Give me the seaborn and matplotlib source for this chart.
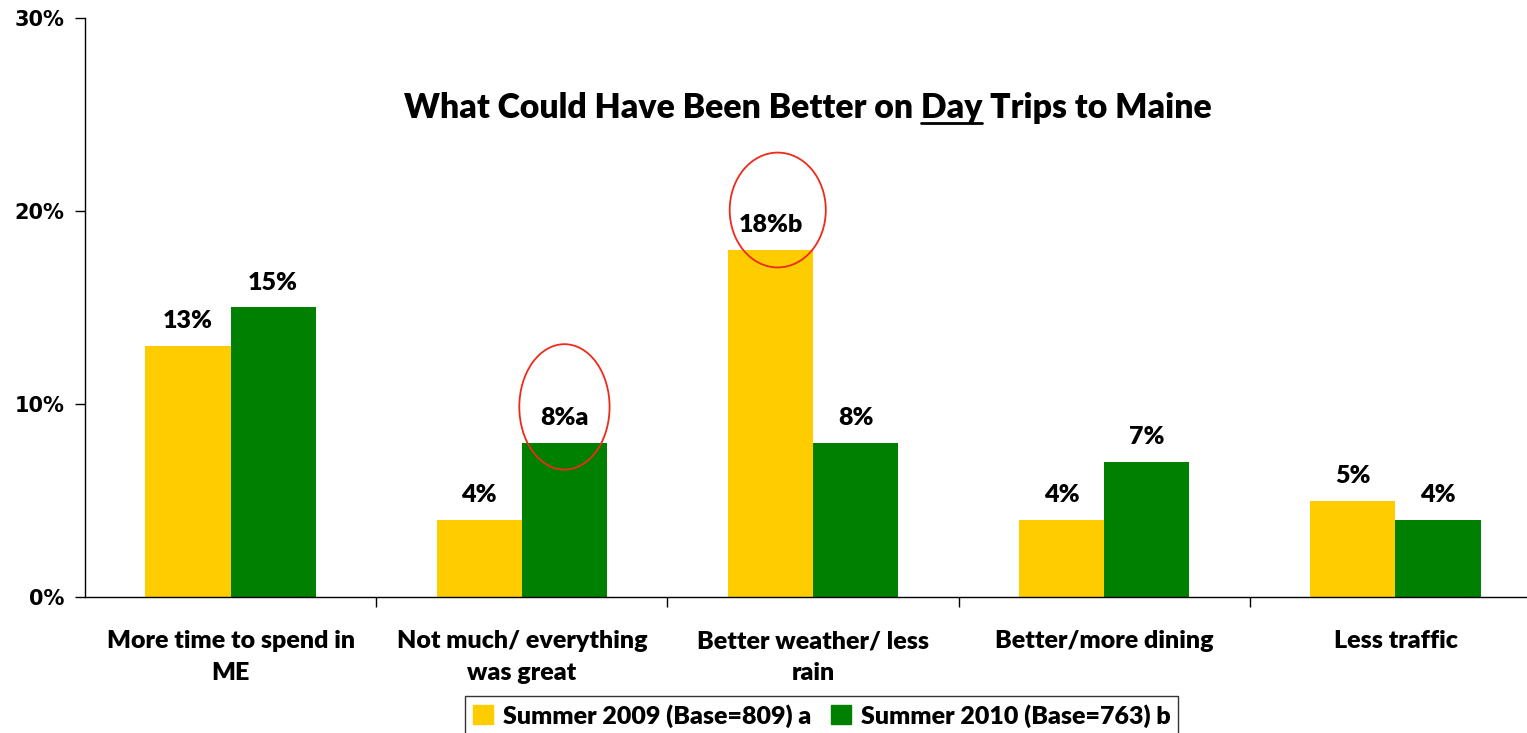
import numpy as np
import pandas as pd
import matplotlib
matplotlib.use("Agg")
import matplotlib.pyplot as plt
from matplotlib.patches import Ellipse
from matplotlib.lines import Line2D
from matplotlib.ticker import FixedLocator
import seaborn as sns

categories = ["More time to spend in\nME", "Not much/ everything\nwas great",
              "Better weather/ less\nrain", "Better/more dining", "Less traffic"]
series = ["Summer 2009 (Base=809) a", "Summer 2010 (Base=763) b"]
values_2009 = [13, 4, 18, 4, 5]
values_2010 = [15, 8, 8, 7, 4]
labels_2009 = ["13%", "4%", "18%b", "4%", "5%"]
labels_2010 = ["15%", "8%a", "8%", "7%", "4%"]
colors = ["#FFCC00", "#008000"]
yticks = [0, 10, 20, 30]
title = "What Could Have Been Better on Day Trips to Maine"
underlined = "Day"

sns.set_style("white")
plt.rcParams["font.family"] = ["Lato", "DejaVu Sans"]
plt.rcParams["text.color"] = "black"
plt.rcParams["xtick.color"] = "black"
plt.rcParams["ytick.color"] = "black"

W = "heavy"

df = pd.DataFrame({
    "category": categories * 2,
    "series": [series[0]] * 5 + [series[1]] * 5,
    "value": values_2009 + values_2010,
})

fig = plt.figure(figsize=(15.27, 7.33), dpi=100)
# the plot area runs a bit past the right edge of the image, as in the original
ax = fig.add_axes([0.0557, 0.1855, 0.9535, 0.79])

sns.barplot(data=df, x="category", y="value", hue="series", palette=colors,
            width=0.585, saturation=1, ax=ax, legend=False, linewidth=0)

# value labels
for cont, labs in zip(ax.containers, [labels_2009, labels_2010]):
    ax.bar_label(cont, labels=labs, padding=10, fontsize=18, fontweight=W)

# red circles around significant differences
b09 = ax.containers[0][2]
b10 = ax.containers[1][1]
ax.add_patch(Ellipse((b10.get_x() + b10.get_width() / 2, 9.85), 0.31, 6.5,
                     fill=False, edgecolor="#EE2A1B", lw=1.3, clip_on=False))
ax.add_patch(Ellipse((b09.get_x() + b09.get_width() / 2 + 0.025, 20.05), 0.33, 5.95,
                     fill=False, edgecolor="#EE2A1B", lw=1.3, clip_on=False))

ax.set_xlim(-0.5, 4.5)
ax.set_ylim(0, 30)
ax.set_yticks(yticks)
ax.set_yticklabels([f"{t}%" for t in yticks], fontsize=15, fontweight="bold",
                   family="DejaVu Sans")
ax.set_xticks(range(len(categories)))
ax.set_xticklabels(categories, fontsize=18, fontweight=W, linespacing=1.55)
ax.xaxis.set_minor_locator(FixedLocator([0.5, 1.5, 2.5, 3.5, 4.5]))
ax.tick_params(axis="x", which="major", length=0, pad=24)
ax.tick_params(axis="x", which="minor", length=7, width=1, color="black", direction="out", bottom=True)
ax.tick_params(axis="y", length=7, width=1, color="black", direction="out", left=True, pad=8)
ax.set_xlabel("")
ax.set_ylabel("")
for side in ["top", "right"]:
    ax.spines[side].set_visible(False)
for side in ["left", "bottom"]:
    ax.spines[side].set_color("black")
    ax.spines[side].set_linewidth(1)

# title with underlined word
tkw = dict(fontsize=24.3, fontweight=W)
t = fig.text(0.529, 0.852, title, ha="center", va="center", **tkw)
fig.canvas.draw()
r = fig.canvas.get_renderer()
bb = t.get_window_extent(r)
idx = title.index(underlined) + len(underlined)
tmp1 = fig.text(0, 0, title[:idx], **tkw)
tmp2 = fig.text(0, 0, underlined, **tkw)
w_end = tmp1.get_window_extent(r).width
w_word = tmp2.get_window_extent(r).width
tmp1.remove()
tmp2.remove()
x1 = bb.x0 + w_end
x0 = x1 - w_word
y_ul = bb.y0 + 1
fig.add_artist(Line2D([x0 / fig.bbox.width, x1 / fig.bbox.width],
                      [y_ul / fig.bbox.height] * 2, transform=fig.transFigure,
                      color="black", lw=2))

handles = [plt.Rectangle((0, 0), 1, 1, color=c) for c in colors]
leg = fig.legend(handles, series, loc="lower center", bbox_to_anchor=(0.538, -0.02),
                 ncol=2, frameon=True, fancybox=False, edgecolor="black",
                 prop={"weight": W, "size": 18}, handlelength=0.8, handleheight=0.8,
                 handletextpad=0.4, columnspacing=0.8, borderpad=0.3)
leg.get_frame().set_linewidth(1)

fig.savefig("out.png", dpi=100)
